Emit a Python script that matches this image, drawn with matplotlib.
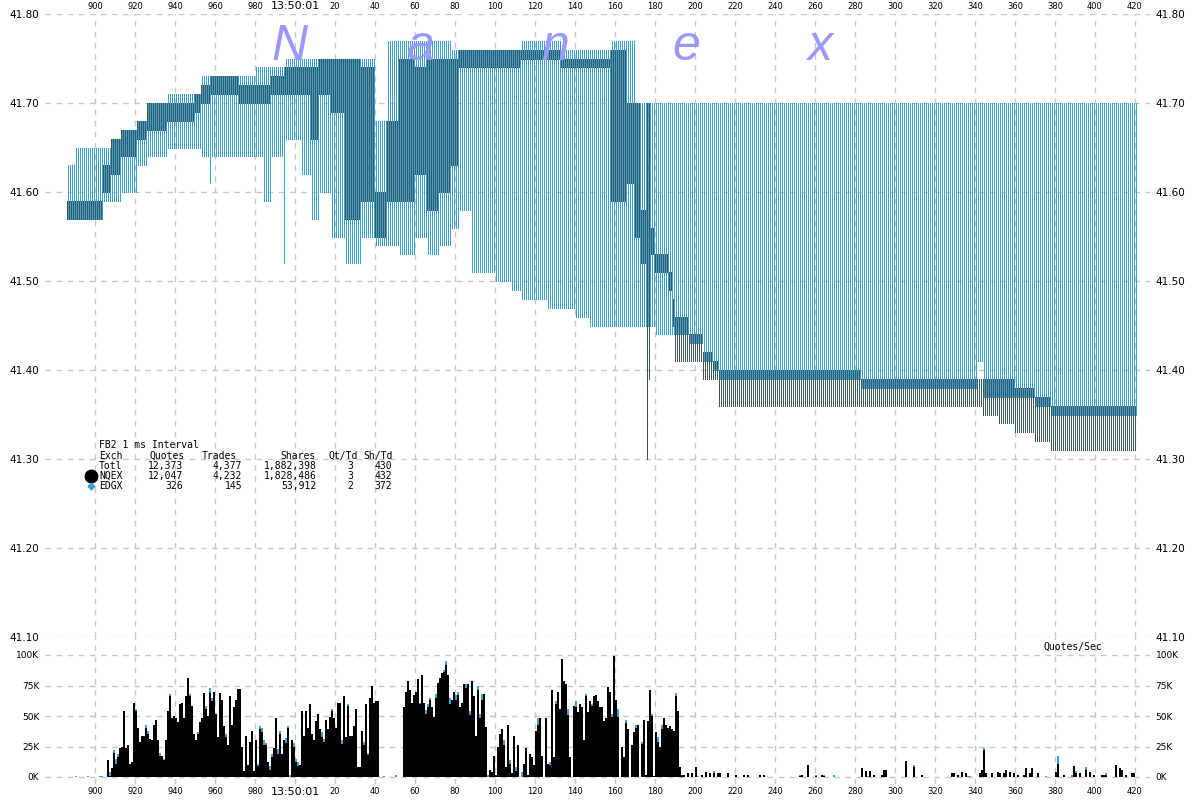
import numpy as np
import matplotlib
matplotlib.use('Agg')
import matplotlib.pyplot as plt

# ---- quotes: step segments, start ms after 13:50:00.000 ----
seg_ms = [886, 890, 904, 908, 913, 921, 926, 936, 950, 953, 957, 958, 972, 980, 984, 988, 994, 995,
          1003, 1008, 1012, 1018, 1025, 1033, 1040, 1046, 1052, 1060, 1066, 1072, 1078, 1082, 1088, 1100,
          1108, 1113, 1126, 1133, 1140, 1147, 1158, 1166, 1170, 1173, 1176, 1177, 1178, 1180, 1187, 1189,
          1190, 1197, 1204, 1209, 1212, 1283, 1341, 1344, 1352, 1360, 1370, 1378]
nq_bid = [41.57, 41.57, 41.60, 41.62, 41.64, 41.66, 41.67, 41.68, 41.69, 41.70, 41.70, 41.71, 41.70, 41.70, 41.70, 41.71, 41.71, 41.71,
          41.71, 41.66, 41.71, 41.69, 41.57, 41.59, 41.55, 41.59, 41.59, 41.62, 41.58, 41.60, 41.63, 41.74, 41.74, 41.74,
          41.74, 41.75, 41.75, 41.74, 41.74, 41.74, 41.59, 41.61, 41.55, 41.52, 41.30, 41.39, 41.53, 41.51, 41.49, 41.45,
          41.41, 41.41, 41.39, 41.39, 41.36, 41.36, 41.36, 41.35, 41.34, 41.33, 41.32, 41.31]
nq_ask = [41.59, 41.59, 41.63, 41.66, 41.67, 41.68, 41.70, 41.70, 41.71, 41.72, 41.72, 41.73, 41.72, 41.72, 41.72, 41.73, 41.73, 41.74,
          41.74, 41.74, 41.75, 41.75, 41.75, 41.74, 41.60, 41.68, 41.75, 41.74, 41.75, 41.75, 41.75, 41.76, 41.76, 41.76,
          41.76, 41.76, 41.76, 41.75, 41.75, 41.75, 41.76, 41.70, 41.70, 41.58, 41.70, 41.70, 41.56, 41.53, 41.51, 41.48,
          41.46, 41.44, 41.42, 41.41, 41.40, 41.39, 41.39, 41.39, 41.39, 41.38, 41.37, 41.36]
ed_bid = [41.57, 41.57, 41.59, 41.59, 41.60, 41.63, 41.64, 41.65, 41.65, 41.64, 41.61, 41.64, 41.64, 41.64, 41.59, 41.64, 41.52, 41.66,
          41.62, 41.57, 41.60, 41.55, 41.52, 41.55, 41.54, 41.54, 41.53, 41.55, 41.53, 41.54, 41.56, 41.58, 41.51, 41.50,
          41.49, 41.48, 41.47, 41.47, 41.46, 41.45, 41.45, 41.45, 41.45, 41.45, 41.45, 41.45, 41.45, 41.44, 41.44, 41.44,
          41.44, 41.43, 41.41, 41.40, 41.39, 41.38, 41.41, 41.37, 41.37, 41.37, 41.36, 41.35]
ed_ask = [41.63, 41.65, 41.65, 41.66, 41.67, 41.68, 41.70, 41.71, 41.71, 41.73, 41.73, 41.73, 41.73, 41.74, 41.74, 41.74, 41.74, 41.75,
          41.75, 41.75, 41.75, 41.75, 41.75, 41.75, 41.68, 41.77, 41.77, 41.77, 41.77, 41.77, 41.76, 41.76, 41.76, 41.76,
          41.76, 41.77, 41.77, 41.76, 41.76, 41.76, 41.77, 41.77, 41.70, 41.70, 41.70, 41.70, 41.70, 41.70, 41.70, 41.70,
          41.70, 41.70, 41.70, 41.70, 41.70, 41.70, 41.70, 41.70, 41.70, 41.70, 41.70, 41.70]
quote_end = 1421

# ---- quotes/sec (K) per ms ----
block1_start = 906
block1_k = [14, 4, 7, 22, 15, 19, 24, 25, 54, 24, 26, 11, 12, 61, 56, 40, 29, 34, 34, 43, 38, 31, 30, 43, 47, 30,
            20, 17, 15, 30, 54, 68, 48, 50, 48, 45, 60, 61, 48, 66, 81, 68, 58, 35, 30, 37, 45, 48, 69, 58, 50, 73,
            65, 70, 52, 33, 69, 63, 42, 35, 26, 66, 43, 57, 63, 72,
            72, 25, 5, 34, 10, 29, 38, 5, 30, 11, 42, 40, 30, 28, 12, 9, 19, 24, 48, 23, 38, 19, 30, 32, 42, 2, 30,
            28, 15, 12, 10, 54, 34, 54, 40, 60, 35, 30, 46, 52, 39, 37, 31, 47, 39, 49, 56, 48, 40, 61, 61, 30, 66,
            33, 60, 34, 34, 42, 56, 8, 8, 38, 29, 60, 20, 65, 75, 61, 62, 62]
block2_start = 1054
block2_k = [57, 70, 79, 71, 61, 67, 70, 80, 61, 84, 61, 55, 60, 65, 57, 49, 68, 77, 81, 85, 88, 95, 84, 65, 63, 70,
            67, 70, 57, 61, 76, 76, 76, 54, 79, 66, 34, 75, 52, 68, 68, 41, 2, 6, 4, 17, 2, 25, 35, 39, 30, 8, 43,
            14, 3, 34, 8, 26, 0, 0, 11, 24, 2, 19, 16, 10, 38, 48]
block3_start = 1122
block3_k = [48, 17, 0, 48, 11, 12, 71, 16, 62, 70, 56, 97, 79, 76, 56, 16, 0, 58, 62, 53, 60, 57, 30, 68, 53, 62,
            60, 66, 67, 62, 57, 57, 46, 48, 74, 70, 52, 99, 63, 56, 0, 25, 16, 47, 39, 0, 26, 37, 43, 43, 0, 29,
            47, 2, 46, 71, 52, 1, 37, 33, 25, 43, 48, 43, 40, 42, 39, 38, 69, 54, 8, 2, 2]
tail_ms = [1196, 1198, 1200, 1203, 1205, 1207, 1209, 1211, 1212, 1216, 1220, 1224, 1226, 1232, 1234, 1252, 1253,
           1256, 1260, 1263, 1264, 1283, 1285, 1287, 1289, 1293, 1294, 1295, 1305, 1309, 1313, 1328, 1329, 1331,
           1333, 1335, 1342, 1343, 1344, 1345, 1348, 1351, 1352, 1354, 1355, 1357, 1359, 1361, 1364, 1365, 1367,
           1368, 1371, 1380, 1381, 1384, 1389, 1390, 1392, 1395, 1397, 1399, 1403, 1404, 1405, 1410, 1412, 1413,
           1415, 1418, 1419]
tail_k = [3, 3, 8, 2, 4, 3, 5, 3, 3, 3, 2, 2, 2, 2, 2, 2, 2, 10, 2, 2, 2, 7, 5, 5, 2, 2, 6, 6, 13, 10, 2, 3, 3, 2,
          4, 3, 3, 6, 24, 3, 3, 4, 3, 3, 6, 4, 3, 2, 2, 7, 3, 7, 3, 4, 17, 2, 9, 5, 3, 8, 4, 2, 2, 2, 3, 10, 7, 6,
          2, 3, 3]
# EDGX share (blue tops), K
edgx_ms = [890, 896, 902, 903, 907, 909, 910, 911, 920, 925, 926, 932, 934, 937, 947, 951, 955, 957, 958, 965,
           981, 982, 983, 984, 985, 987, 988, 991, 992, 995, 996, 997, 999, 1000, 1001, 1013, 1014, 1018, 1023,
           1026, 1034, 1036, 1044, 1050, 1062, 1065, 1066, 1067, 1070, 1074, 1075, 1077, 1080, 1081, 1085, 1087,
           1091, 1092, 1093, 1096, 1104, 1107, 1110, 1113, 1121, 1127, 1130, 1136, 1140, 1145, 1148, 1158, 1161,
           1165, 1170, 1173, 1178, 1181, 1183, 1190, 1201, 1209, 1252, 1260, 1264, 1269, 1286, 1309, 1336, 1337,
           1344, 1375, 1381, 1388, 1390, 1395, 1405]
edgx_k = [1, 1, 1, 1, 3, 2, 4, 3, 2, 3, 3, 3, 1, 2, 2, 2, 2, 4, 3, 2, 2, 3, 3, 4, 2, 3, 3, 4, 3, 4, 2, 2, 3, 3, 3,
          4, 2, 2, 3, 2, 3, 2, 1, 2, 1, 3, 3, 2, 3, 2, 3, 5, 4, 3, 3, 3, 4, 4, 5, 2, 4, 3, 3, 4, 5, 2, 2, 5, 5, 2, 2,
          3, 7, 3, 3, 2, 2, 4, 4, 3, 1, 2, 1, 1, 1, 2, 1, 2, 1, 1, 2, 1, 6, 2, 2, 2, 1]

legend_rows = [['Totl', '12,373', '4,377', '1,882,398', '3', '430'],
               ['NQEX', '12,047', '4,232', '1,828,486', '3', '432'],
               ['EDGX', '326', '145', '53,912', '2', '372']]

DARK = '#3d5656'
BLUE = '#3a9fd5'
GRID = '#c8c8c8'


def expand(starts, vals, end):
    ms, out = [], []
    for i in range(len(starts)):
        stop = starts[i + 1] if i + 1 < len(starts) else end
        for t in range(starts[i], stop):
            ms.append(t)
            out.append(vals[i])
    return np.array(ms), np.array(out)


W, H = 1200, 800
fig = plt.figure(figsize=(12, 8), dpi=100)
x0, x1 = 45, 1150
ax = fig.add_axes([x0 / W, (H - 637) / H, (x1 - x0) / W, (637 - 14) / H])
axb = fig.add_axes([x0 / W, (H - 784) / H, (x1 - x0) / W, (784 - 637) / H])
xlim = (875, 875 + (x1 - x0) / 2)

# top panel: quote ranges, one pixel column per exchange per ms
t, nb = expand(seg_ms, nq_bid, quote_end)
_, na = expand(seg_ms, nq_ask, quote_end)
_, eb = expand(seg_ms, ed_bid, quote_end)
_, ea = expand(seg_ms, ed_ask, quote_end)
ax.vlines(t + 0.75, eb, ea, colors=BLUE, lw=0.72, antialiased=False, zorder=3)
ax.vlines(t + 0.25, nb, na, colors=DARK, lw=0.72, antialiased=False, zorder=3)
ax.set_xlim(*xlim)
ax.set_ylim(41.10, 41.80)

# bottom panel: quotes/sec
total = {}
for start, vals in [(block1_start, block1_k), (block2_start, block2_k), (block3_start, block3_k)]:
    for i, v in enumerate(vals):
        total[start + i] = v
for m, v in zip(tail_ms, tail_k):
    total[m] = v
edgx = dict(zip(edgx_ms, edgx_k))
all_ms = sorted(set(total) | set(edgx))
nq_part = np.array([max(total.get(m, 0) - edgx.get(m, 0), 0) for m in all_ms])
ed_part = np.array([edgx.get(m, 0) for m in all_ms])
all_ms = np.array(all_ms)
axb.bar(all_ms, nq_part, width=1, align='edge', color='black', linewidth=0, antialiased=False, zorder=3)
axb.bar(all_ms, ed_part, bottom=nq_part, width=1, align='edge', color=BLUE, linewidth=0,
        antialiased=False, zorder=3)
axb.set_xlim(*xlim)
axb.set_ylim(-100 * 7 / 122, 100 * 140 / 122)

xt = list(range(900, 1421, 20))
xl = ['13:50:01' if v == 1000 else str(v if v < 1000 else v - 1000) for v in xt]
for a in (ax, axb):
    for s in a.spines.values():
        s.set_visible(False)
    a.set_xticks(xt)
    a.set_xticklabels(xl)
    a.grid(True, color=GRID, lw=1.0, ls=(0, (4, 4)))
    a.set_axisbelow(True)
    a.tick_params(length=0)
    a.tick_params(axis='y', labelleft=True, labelright=True, left=False, right=False)
    a.patch.set_alpha(0)

ax.xaxis.tick_top()
ax.tick_params(axis='x', pad=2, labelsize=6)
axb.tick_params(axis='x', pad=2, labelsize=6)
for a in (ax, axb):
    for lab in a.get_xticklabels():
        if lab.get_text() == '13:50:01':
            lab.set_fontsize(8)

yt = [41.10, 41.20, 41.30, 41.40, 41.50, 41.60, 41.70, 41.80]
ax.set_yticks(yt)
ax.set_yticklabels(['%.2f' % v for v in yt])
ax.tick_params(axis='y', labelsize=7.5, pad=4)
axb.set_yticks([0, 25, 50, 75, 100])
axb.set_yticklabels(['0K', '25K', '50K', '75K', '100K'])
axb.tick_params(axis='y', labelsize=6.5, pad=4)
axb.grid(False, axis='y')
for v in [0, 25, 50, 75, 100]:
    axb.axhline(v, color=GRID, lw=1.0, ls=(0, (4, 4)), zorder=0)

# watermark
for ch, px in zip('Nanex', [290, 421, 555, 686, 820]):
    fig.text(px / W, (H - 60) / H, ch, color='#9999ff', fontsize=36, fontstyle='italic',
             family='Liberation Sans', ha='center', va='baseline', zorder=5)

# stats block
mono = dict(family='DejaVu Sans Mono', fontsize=7, va='center', color='black')
fig.text(99 / W, (H - 445) / H, 'FB2 1 ms Interval', ha='left', **mono)
cols_x = [185, 237, 316, 358, 393]
heads = ['Quotes', 'Trades', 'Shares', 'Qt/Td', 'Sh/Td']
fig.text(99 / W, (H - 456) / H, 'Exch', ha='left', **mono)
for cx, hd in zip(cols_x, heads):
    fig.text(cx / W, (H - 456) / H, hd, ha='right', **mono)
row_y = [466, 476, 486]
for ry, row in zip(row_y, legend_rows):
    fig.text(99 / W, (H - ry) / H, row[0], ha='left', **mono)
    for cx, val in zip([183, 242, 317, 353, 392], row[1:]):
        fig.text(cx / W, (H - ry) / H, val, ha='right', **mono)
fig.add_artist(plt.Line2D([91 / W], [(H - 476) / H], marker='o', ms=9, color='black', lw=0))
fig.add_artist(plt.Line2D([91 / W], [(H - 486) / H], marker='D', ms=3.5, color=BLUE, lw=0))

fig.text(1043 / W, (H - 647) / H, 'Quotes/Sec', ha='left', **mono)

fig.savefig('out.png', dpi=100)
